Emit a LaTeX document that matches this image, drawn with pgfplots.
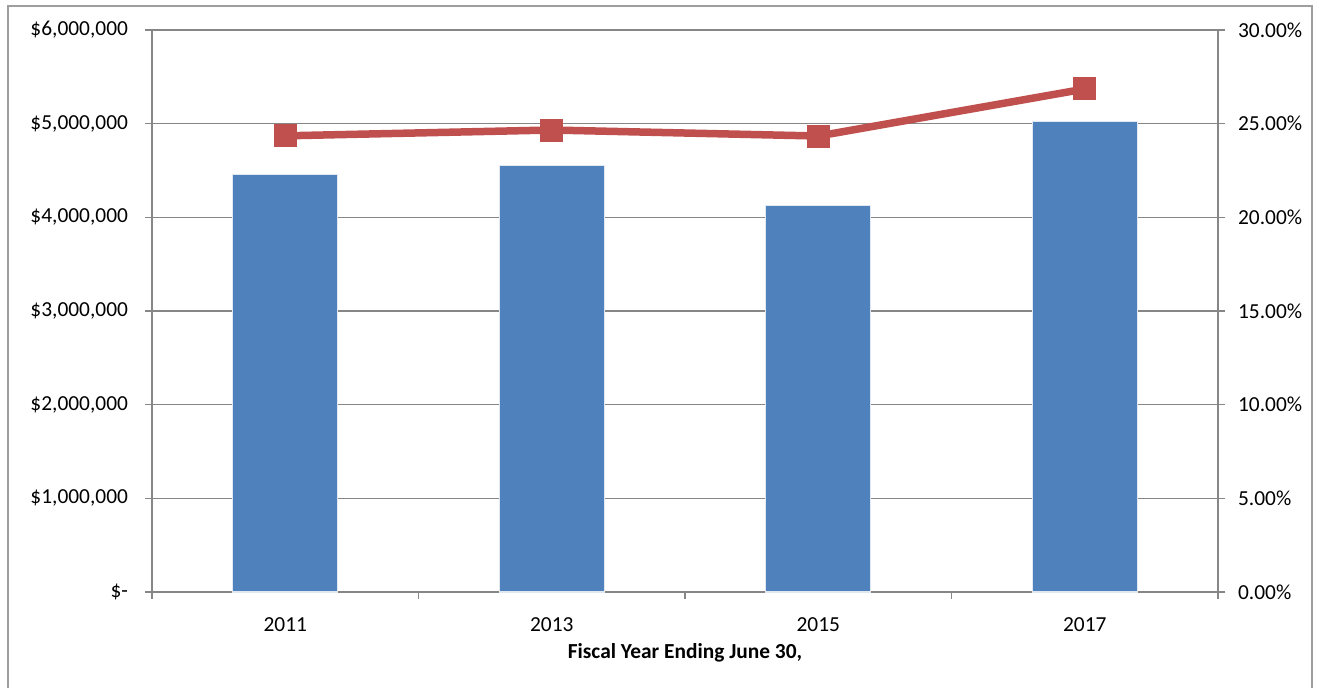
\documentclass[border=0pt]{standalone}
\usepackage{pgfplots}
\pgfplotsset{compat=1.18}
\usepackage{fontspec}
\setmainfont{Carlito}
\definecolor{barblue}{HTML}{4F81BD}
\definecolor{linered}{HTML}{C0504D}
\definecolor{axgray}{HTML}{868686}
\begin{document}
\begin{tikzpicture}[x=1pt,y=1pt]
\path[use as bounding box] (0,0) rectangle (659.5,344);
\draw[axgray!80, line width=0.7pt] (4,-5) rectangle (656,341);
\begin{axis}[
  at={(76pt,48pt)}, anchor=south west,
  scale only axis, width=533pt, height=281pt,
  xmin=-0.5, xmax=3.5, ymin=0, ymax=6000000,
  xtick={0,1,2,3}, xticklabels={2011,2013,2015,2017},
  minor xtick={-0.5,0.5,1.5,2.5,3.5},
  major x tick style={draw=none},
  xtick pos=bottom, ytick pos=left, tick align=outside,
  major tick length=3.5pt, minor tick length=3.5pt,
  ytick={0,1000000,2000000,3000000,4000000,5000000,6000000},
  yticklabels={\$-\hspace{1.2em},{\$1,000,000},{\$2,000,000},{\$3,000,000},{\$4,000,000},{\$5,000,000},{\$6,000,000}},
  ymajorgrids, grid style={axgray, line width=0.75pt},
  axis line style={axgray, line width=0.75pt},
  tick style={axgray, line width=0.75pt},
  ticklabel style={font=\fontsize{10.7}{12.8}\selectfont, text=black},
  yticklabel style={xshift=-5pt},
  xticklabel style={yshift=-6pt},
  scaled y ticks=false,
  clip=false,
]
\addplot[ybar, bar width=52.5pt, fill=barblue, draw={rgb,255:red,225;green,232;blue,242}, line width=0.6pt]
  coordinates {(0,4456000) (1,4555000) (2,4125000) (3,5024000)};
\node[font=\bfseries\fontsize{10.7}{12.8}\selectfont] at (axis description cs:0.5,0) [yshift=-30.5pt] {Fiscal Year Ending June 30,};
\end{axis}
\begin{axis}[
  at={(76pt,48pt)}, anchor=south west,
  scale only axis, width=533pt, height=281pt,
  xmin=-0.5, xmax=3.5, ymin=0, ymax=30,
  axis x line=none, axis y line*=right,
  ytick={0,5,10,15,20,25,30},
  yticklabels={0.00\%,5.00\%,10.00\%,15.00\%,20.00\%,25.00\%,30.00\%},
  tick align=outside, major tick length=3.5pt,
  axis line style={axgray, line width=0.75pt},
  tick style={axgray, line width=0.75pt},
  ticklabel style={font=\fontsize{10.7}{12.8}\selectfont, text=black},
  yticklabel style={xshift=3pt},
  clip=false,
]
\addplot[linered, line width=3.75pt, mark=square*, mark size=5.5pt,
  mark options={solid, fill=linered, draw=linered, line width=0pt}]
  coordinates {(0,24.35) (1,24.66) (2,24.34) (3,26.85)};
\end{axis}
\end{tikzpicture}
\end{document}
